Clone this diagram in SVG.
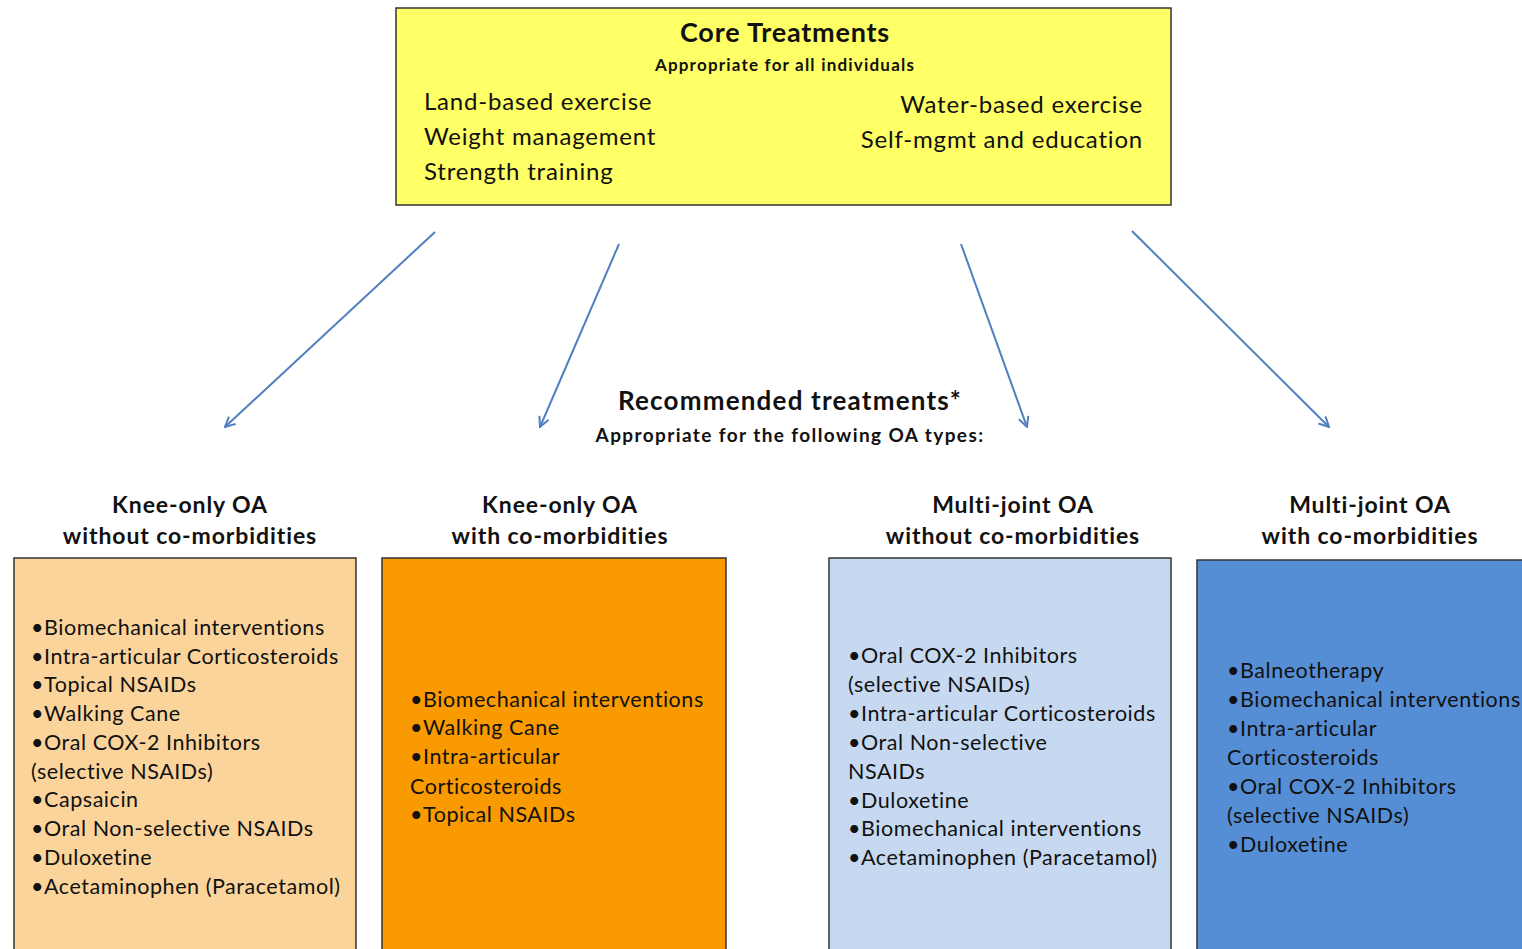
<svg xmlns="http://www.w3.org/2000/svg" width="1522" height="949" viewBox="0 0 1522 949">
<defs>
<style>
text{font-family:Lato,"Open Sans","Liberation Sans",sans-serif;fill:#111}
.h1{font-size:27px;font-weight:bold;text-anchor:middle;letter-spacing:0.8px}
.h2{font-size:17px;font-weight:bold;text-anchor:middle;letter-spacing:1.2px}
.core{font-size:24px;letter-spacing:0.8px}
.hd{font-size:23px;font-weight:bold;text-anchor:middle;letter-spacing:0.9px}
.r1{font-size:26px;letter-spacing:1.2px}
.r2{font-size:19px;letter-spacing:1.4px}
.it{font-size:21.5px;letter-spacing:0.55px}
.box{stroke:#333;stroke-width:1.5}
.arr{stroke:#4f7fc0;stroke-width:2;fill:none;marker-end:url(#ah)}
</style>
<marker id="ah" viewBox="0 0 12 12" refX="11" refY="6" markerWidth="12" markerHeight="12" markerUnits="userSpaceOnUse" orient="auto">
<path d="M1,1 L11,6 L1,11" fill="none" stroke="#4f7fc0" stroke-width="2"/>
</marker>
</defs>
<rect width="1522" height="949" fill="#fff"/>
<g id="core">
<rect class="box" x="396" y="8" width="775" height="197" fill="#ffff66"/>
<text class="h1" x="785" y="42">Core Treatments</text>
<text class="h2" x="785" y="71">Appropriate for all individuals</text>
<text class="core" x="424" y="110">Land-based exercise</text>
<text class="core" x="424" y="145">Weight management</text>
<text class="core" x="424" y="180">Strength training</text>
<text class="core" x="1143" y="113" text-anchor="end">Water-based exercise</text>
<text class="core" x="1143" y="148" text-anchor="end">Self-mgmt and education</text>
</g>
<g id="connectors">
<line class="arr" x1="435" y1="232" x2="225" y2="427"/>
<line class="arr" x1="619" y1="244" x2="540" y2="427"/>
<line class="arr" x1="961" y1="244" x2="1027" y2="427"/>
<line class="arr" x1="1132" y1="231" x2="1329" y2="427"/>
</g>
<g id="recommended">
<text class="hd r1" x="790" y="410">Recommended treatments*</text>
<text class="hd r2" x="790" y="442">Appropriate for the following OA types:</text>
</g>
<g id="knee-no">
<text class="hd" x="190" y="513">Knee-only OA</text>
<text class="hd" x="190" y="544">without co-morbidities</text>
<rect class="box" x="14" y="558" width="342" height="400" fill="#fbd49c"/>
<text class="it"><tspan x="31" y="635">•Biomechanical interventions</tspan><tspan x="31" y="664">•Intra-articular Corticosteroids</tspan><tspan x="31" y="692">•Topical NSAIDs</tspan><tspan x="31" y="721">•Walking Cane</tspan><tspan x="31" y="750">•Oral COX-2 Inhibitors</tspan><tspan x="31" y="779">(selective NSAIDs)</tspan><tspan x="31" y="807">•Capsaicin</tspan><tspan x="31" y="836">•Oral Non-selective NSAIDs</tspan><tspan x="31" y="865">•Duloxetine</tspan><tspan x="31" y="894">•Acetaminophen (Paracetamol)</tspan></text>
</g>
<g id="knee-with">
<text class="hd" x="560" y="513">Knee-only OA</text>
<text class="hd" x="560" y="544">with co-morbidities</text>
<rect class="box" x="382" y="558" width="344" height="400" fill="#f99a00"/>
<text class="it"><tspan x="410" y="707">•Biomechanical interventions</tspan><tspan x="410" y="735">•Walking Cane</tspan><tspan x="410" y="764">•Intra-articular</tspan><tspan x="410" y="794">Corticosteroids</tspan><tspan x="410" y="822">•Topical NSAIDs</tspan></text>
</g>
<g id="multi-no">
<text class="hd" x="1013" y="513">Multi-joint OA</text>
<text class="hd" x="1013" y="544">without co-morbidities</text>
<rect class="box" x="829" y="558" width="342" height="400" fill="#c6d9f1"/>
<text class="it"><tspan x="848" y="663">•Oral COX-2 Inhibitors</tspan><tspan x="848" y="692">(selective NSAIDs)</tspan><tspan x="848" y="721">•Intra-articular Corticosteroids</tspan><tspan x="848" y="750">•Oral Non-selective</tspan><tspan x="848" y="779">NSAIDs</tspan><tspan x="848" y="808">•Duloxetine</tspan><tspan x="848" y="836">•Biomechanical interventions</tspan><tspan x="848" y="865">•Acetaminophen (Paracetamol)</tspan></text>
</g>
<g id="multi-with">
<text class="hd" x="1370" y="513">Multi-joint OA</text>
<text class="hd" x="1370" y="544">with co-morbidities</text>
<rect class="box" x="1197" y="560" width="340" height="400" fill="#558ed5"/>
<text class="it"><tspan x="1227" y="678">•Balneotherapy</tspan><tspan x="1227" y="707">•Biomechanical interventions</tspan><tspan x="1227" y="736">•Intra-articular</tspan><tspan x="1227" y="765">Corticosteroids</tspan><tspan x="1227" y="794">•Oral COX-2 Inhibitors</tspan><tspan x="1227" y="823">(selective NSAIDs)</tspan><tspan x="1227" y="852">•Duloxetine</tspan></text>
</g>
</svg>
